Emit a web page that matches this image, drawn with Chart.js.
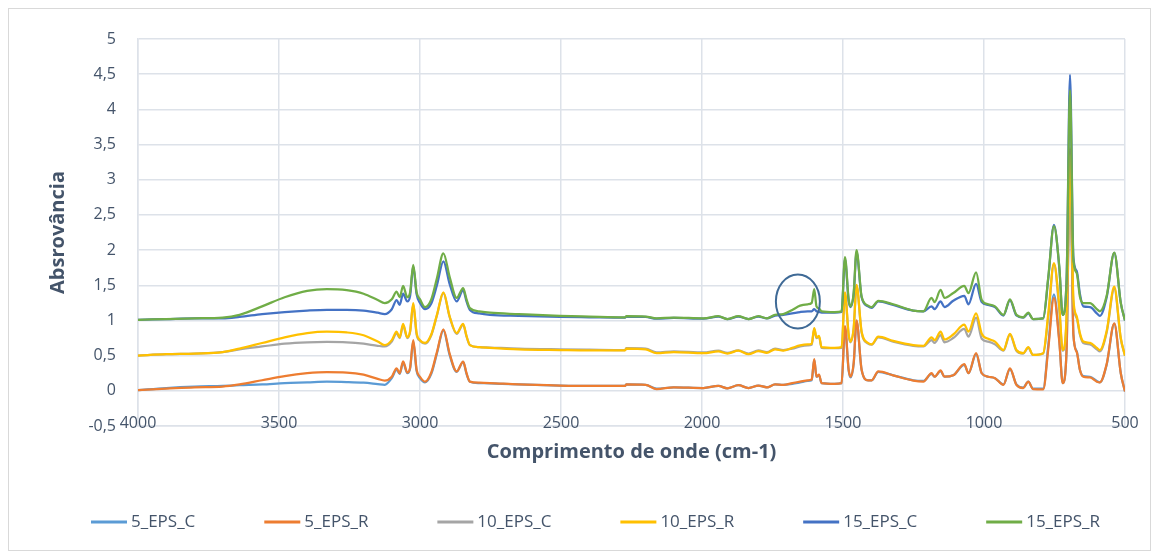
<!DOCTYPE html>
<html>
<head>
<meta charset="utf-8">
<script src="https://cdn.jsdelivr.net/npm/chart.js@4.4.1/dist/chart.umd.min.js"></script>
<style>
  body { margin: 0; background: #ffffff; }
  canvas { display: block; }
</style>
</head>
<body>
<canvas id="ftirChart" width="1161" height="554"></canvas>
<script>
// Wavenumbers (cm-1), shared by all spectra
const waveNumbers = [
  4000, 3900, 3800, 3700, 3640, 3560, 3480, 3400, 3330, 3260, 3200, 3150, 3125,
  3100, 3083, 3072, 3060, 3045, 3035, 3024, 3012, 3000, 2982, 2960, 2940, 2917,
  2895, 2870, 2847, 2835, 2823, 2790, 2752, 2650, 2504, 2400, 2273, 2268, 2200,
  2161, 2100, 1995, 1942, 1910, 1871, 1835, 1800, 1770, 1741, 1712, 1680, 1652,
  1625, 1611, 1602, 1594, 1585, 1576, 1530, 1505, 1493, 1480, 1473, 1462, 1452,
  1434, 1411, 1398, 1375, 1322, 1251, 1215, 1186, 1175, 1154, 1140, 1109, 1070,
  1055, 1028, 1008, 985, 961, 931, 908, 885, 861, 843, 826, 790, 772, 752, 733,
  721, 707, 695, 683, 671, 660, 648, 624, 600, 589, 565, 538, 515, 500
];

const eps5C = [
  0.01, 0.04, 0.06, 0.07, 0.08, 0.09, 0.11, 0.12, 0.13, 0.125, 0.115, 0.095, 0.085,
  0.18, 0.30, 0.24, 0.40, 0.25, 0.32, 0.70, 0.28, 0.18, 0.12, 0.24, 0.53, 0.86,
  0.51, 0.27, 0.41, 0.24, 0.13, 0.11, 0.105, 0.09, 0.075, 0.07, 0.07, 0.09, 0.085,
  0.03, 0.05, 0.04, 0.07, 0.035, 0.08, 0.04, 0.075, 0.05, 0.09, 0.085, 0.10, 0.12,
  0.14, 0.15, 0.44, 0.20, 0.22, 0.11, 0.10, 0.11, 0.90, 0.29, 0.19, 0.39, 0.99,
  0.30, 0.15, 0.15, 0.27, 0.22, 0.15, 0.14, 0.24, 0.20, 0.28, 0.20, 0.22, 0.37,
  0.25, 0.52, 0.25, 0.20, 0.18, 0.09, 0.31, 0.09, 0.045, 0.13, 0.03, 0.03, 0.65, 1.37, 0.72,
  0.11, 0.60, 3.40, 0.80, 0.56, 0.30, 0.21, 0.20, 0.14, 0.12, 0.37, 0.95, 0.25, -0.01
];
const eps5R = [
  0.01, 0.03, 0.05, 0.06, 0.09, 0.15, 0.21, 0.25, 0.265, 0.26, 0.23, 0.17, 0.145,
  0.20, 0.32, 0.25, 0.42, 0.26, 0.33, 0.72, 0.30, 0.20, 0.13, 0.26, 0.55, 0.875,
  0.53, 0.275, 0.415, 0.25, 0.13, 0.115, 0.11, 0.09, 0.075, 0.07, 0.07, 0.09, 0.085,
  0.025, 0.05, 0.04, 0.07, 0.035, 0.08, 0.04, 0.075, 0.05, 0.09, 0.085, 0.11, 0.13,
  0.15, 0.16, 0.45, 0.20, 0.23, 0.11, 0.10, 0.11, 0.92, 0.30, 0.20, 0.40, 1.00,
  0.30, 0.15, 0.15, 0.275, 0.22, 0.145, 0.13, 0.25, 0.20, 0.29, 0.20, 0.22, 0.38,
  0.25, 0.535, 0.25, 0.20, 0.18, 0.085, 0.32, 0.085, 0.04, 0.13, 0.025, 0.02, 0.60, 1.32, 0.70,
  0.11, 0.60, 3.45, 0.80, 0.55, 0.30, 0.20, 0.19, 0.13, 0.12, 0.38, 0.96, 0.25, -0.01
];
const eps10C = [
  0.50, 0.52, 0.53, 0.55, 0.59, 0.63, 0.67, 0.69, 0.695, 0.69, 0.67, 0.64, 0.63,
  0.70, 0.82, 0.75, 0.93, 0.75, 0.84, 1.23, 0.80, 0.71, 0.67, 0.79, 1.07, 1.39,
  1.05, 0.81, 0.94, 0.77, 0.65, 0.62, 0.615, 0.60, 0.59, 0.585, 0.58, 0.605, 0.60,
  0.545, 0.56, 0.545, 0.57, 0.54, 0.575, 0.53, 0.575, 0.55, 0.60, 0.58, 0.60, 0.63,
  0.645, 0.655, 0.88, 0.75, 0.77, 0.61, 0.605, 0.61, 1.38, 0.79, 0.69, 0.89, 1.49,
  0.83, 0.67, 0.655, 0.76, 0.70, 0.64, 0.63, 0.72, 0.68, 0.79, 0.69, 0.75, 0.88,
  0.77, 1.04, 0.74, 0.70, 0.66, 0.57, 0.80, 0.57, 0.53, 0.61, 0.51, 0.53, 1.05, 1.80, 1.15,
  0.57, 1.05, 3.20, 1.25, 1.03, 0.80, 0.68, 0.66, 0.59, 0.56, 0.83, 1.45, 0.74, 0.50
];
const eps10R = [
  0.50, 0.52, 0.53, 0.55, 0.60, 0.68, 0.76, 0.82, 0.84, 0.83, 0.79, 0.70, 0.65,
  0.72, 0.84, 0.76, 0.95, 0.76, 0.85, 1.245, 0.82, 0.72, 0.68, 0.80, 1.08, 1.40,
  1.06, 0.82, 0.95, 0.78, 0.65, 0.62, 0.61, 0.59, 0.58, 0.575, 0.575, 0.60, 0.59,
  0.535, 0.55, 0.535, 0.56, 0.53, 0.57, 0.52, 0.565, 0.54, 0.59, 0.57, 0.61, 0.645,
  0.66, 0.67, 0.89, 0.76, 0.78, 0.62, 0.61, 0.62, 1.40, 0.80, 0.70, 0.90, 1.505,
  0.84, 0.68, 0.66, 0.77, 0.71, 0.65, 0.64, 0.76, 0.72, 0.84, 0.73, 0.80, 0.94,
  0.84, 1.10, 0.81, 0.74, 0.70, 0.58, 0.81, 0.58, 0.535, 0.62, 0.51, 0.535, 1.10, 1.815, 1.20,
  0.58, 1.10, 3.35, 1.30, 1.055, 0.82, 0.70, 0.68, 0.61, 0.58, 0.85, 1.48, 0.75, 0.50
];
const eps15C = [
  1.01, 1.02, 1.03, 1.03, 1.05, 1.09, 1.12, 1.14, 1.15, 1.15, 1.14, 1.11, 1.09,
  1.16, 1.29, 1.22, 1.38, 1.27, 1.35, 1.77, 1.37, 1.25, 1.16, 1.24, 1.50, 1.84,
  1.52, 1.27, 1.43, 1.27, 1.15, 1.10, 1.08, 1.065, 1.05, 1.045, 1.04, 1.055, 1.05,
  1.025, 1.035, 1.025, 1.055, 1.02, 1.055, 1.02, 1.055, 1.03, 1.07, 1.08, 1.10, 1.12,
  1.13, 1.13, 1.16, 1.13, 1.12, 1.11, 1.11, 1.12, 1.87, 1.28, 1.19, 1.38, 1.97,
  1.33, 1.20, 1.18, 1.27, 1.22, 1.14, 1.13, 1.20, 1.16, 1.27, 1.19, 1.28, 1.35,
  1.23, 1.52, 1.26, 1.22, 1.19, 1.07, 1.29, 1.07, 1.04, 1.10, 1.02, 1.03, 1.60, 2.36, 1.75,
  1.08, 1.60, 4.49, 1.90, 1.70, 1.38, 1.20, 1.19, 1.10, 1.065, 1.33, 1.96, 1.25, 1.00
];
const eps15R = [
  1.01, 1.02, 1.03, 1.04, 1.08, 1.20, 1.33, 1.42, 1.445, 1.43, 1.38, 1.29, 1.245,
  1.30, 1.41, 1.33, 1.49, 1.33, 1.40, 1.79, 1.40, 1.30, 1.19, 1.30, 1.60, 1.955,
  1.62, 1.32, 1.46, 1.30, 1.175, 1.13, 1.11, 1.09, 1.065, 1.055, 1.045, 1.06, 1.055,
  1.03, 1.04, 1.03, 1.06, 1.02, 1.06, 1.02, 1.06, 1.03, 1.08, 1.09, 1.15, 1.21,
  1.23, 1.25, 1.445, 1.20, 1.17, 1.13, 1.12, 1.13, 1.90, 1.30, 1.20, 1.40, 2.00,
  1.34, 1.21, 1.19, 1.28, 1.23, 1.14, 1.13, 1.32, 1.26, 1.435, 1.32, 1.39, 1.49,
  1.39, 1.685, 1.29, 1.23, 1.20, 1.08, 1.30, 1.08, 1.045, 1.11, 1.02, 1.03, 1.62, 2.34, 1.765,
  1.08, 1.60, 4.275, 1.86, 1.67, 1.34, 1.245, 1.245, 1.16, 1.13, 1.35, 1.965, 1.25, 1.00
];

const seriesNames = ["5_EPS_C", "5_EPS_R", "10_EPS_C", "10_EPS_R", "15_EPS_C", "15_EPS_R"];
const seriesValues = [eps5C, eps5R, eps10C, eps10R, eps15C, eps15R];
const seriesColors = ["#5b9bd5", "#ed7d31", "#a5a5a5", "#ffc000", "#4472c4", "#70ad47"];

const xTicks = [4000, 3500, 3000, 2500, 2000, 1500, 1000, 500];

// marked region (the ellipse around ~1660 cm-1)
const markWave = 1660;
const markAbs = 1.27;

const textColor = "#44546a";
const gridColor = "#dde2e9";
const fontFamily = "'Open Sans', 'Noto Sans', sans-serif";

const datasets = seriesNames.map((name, i) => ({
  label: name,
  data: waveNumbers.map((w, j) => ({ x: w, y: seriesValues[i][j] })),
  borderColor: seriesColors[i],
  backgroundColor: seriesColors[i],
  borderWidth: 2.25,
  pointRadius: 0,
  cubicInterpolationMode: "monotone",
  // later series are painted on top, like in the original
  order: seriesNames.length - i,
}));

// x tick labels sit on the bottom line (Chart.js clips them otherwise),
// plus the ellipse mark, the legend row and the outer frame
const extras = {
  id: "extras",
  afterDatasetsDraw(chart) {
    const { ctx, scales } = chart;
    const cx = scales.x.getPixelForValue(markWave);
    const cy = scales.y.getPixelForValue(markAbs);
    ctx.save();
    ctx.strokeStyle = "#3f6a96";
    ctx.lineWidth = 2;
    ctx.beginPath();
    ctx.ellipse(cx, cy, 22, 27, 0, 0, Math.PI * 2);
    ctx.stroke();
    ctx.restore();
  },
  afterDraw(chart) {
    const { ctx, scales, chartArea } = chart;
    ctx.save();

    // x tick labels
    ctx.fillStyle = textColor;
    ctx.font = "16px " + fontFamily;
    ctx.textAlign = "center";
    ctx.textBaseline = "middle";
    xTicks.forEach((v) => {
      ctx.fillText(String(v), scales.x.getPixelForValue(v), chartArea.bottom - 3);
    });

    // legend
    ctx.font = "17px " + fontFamily;
    const items = chart.data.datasets;
    const lineLen = 36;
    const gapText = 4;
    const widths = items.map((d) => ctx.measureText(d.label).width);
    const itemsWidth = widths.reduce((s, w) => s + w + lineLen + gapText, 0);
    const left = 91;
    const right = 1100;
    const gap = (right - left - itemsWidth) / (items.length - 1);
    const ly = 522;
    let lx = left;
    ctx.textAlign = "left";
    items.forEach((d, i) => {
      ctx.strokeStyle = d.borderColor;
      ctx.lineWidth = 3;
      ctx.beginPath();
      ctx.moveTo(lx, ly);
      ctx.lineTo(lx + lineLen, ly);
      ctx.stroke();
      ctx.fillStyle = textColor;
      ctx.fillText(d.label, lx + lineLen + gapText, ly);
      lx += lineLen + gapText + widths[i] + gap;
    });

    // outer frame
    ctx.strokeStyle = "#d9d9d9";
    ctx.lineWidth = 1;
    ctx.strokeRect(8.5, 8.5, 1142, 542);
    ctx.restore();
  },
};

new Chart(document.getElementById("ftirChart"), {
  type: "line",
  data: { datasets: datasets },
  plugins: [extras],
  options: {
    responsive: false,
    animation: false,
    layout: { padding: { left: 0, right: 36, top: 39, bottom: 68 } },
    plugins: {
      tooltip: { enabled: false },
      legend: { display: false },
    },
    scales: {
      x: {
        type: "linear",
        reverse: true,
        min: 500,
        max: 4000,
        afterBuildTicks: (scale) => {
          scale.ticks = xTicks.map((v) => ({ value: v }));
        },
        afterFit: (scale) => {
          scale.height = 60;
        },
        grid: { color: gridColor, lineWidth: 1.5, drawTicks: false },
        border: { color: gridColor, width: 1.5 },
        ticks: { display: false },
        title: {
          display: true,
          text: "Comprimento de onde (cm-1)",
          color: textColor,
          font: { family: fontFamily, size: 20, weight: "bold" },
          padding: { top: 0, bottom: 22 },
        },
      },
      y: {
        min: -0.5,
        max: 5,
        afterFit: (scale) => {
          scale.width = 138;
        },
        grid: { color: gridColor, lineWidth: 1.5, drawTicks: false },
        border: { color: gridColor, width: 1.5 },
        ticks: {
          stepSize: 0.5,
          color: textColor,
          font: { family: fontFamily, size: 16 },
          padding: 22,
          callback: (v) => String(Math.round(v * 10) / 10).replace(".", ","),
        },
        title: {
          display: true,
          text: "Absrovância",
          color: textColor,
          font: { family: fontFamily, size: 20, weight: "bold" },
          padding: { top: 46, bottom: 0 },
        },
      },
    },
  },
});
</script>
</body>
</html>
